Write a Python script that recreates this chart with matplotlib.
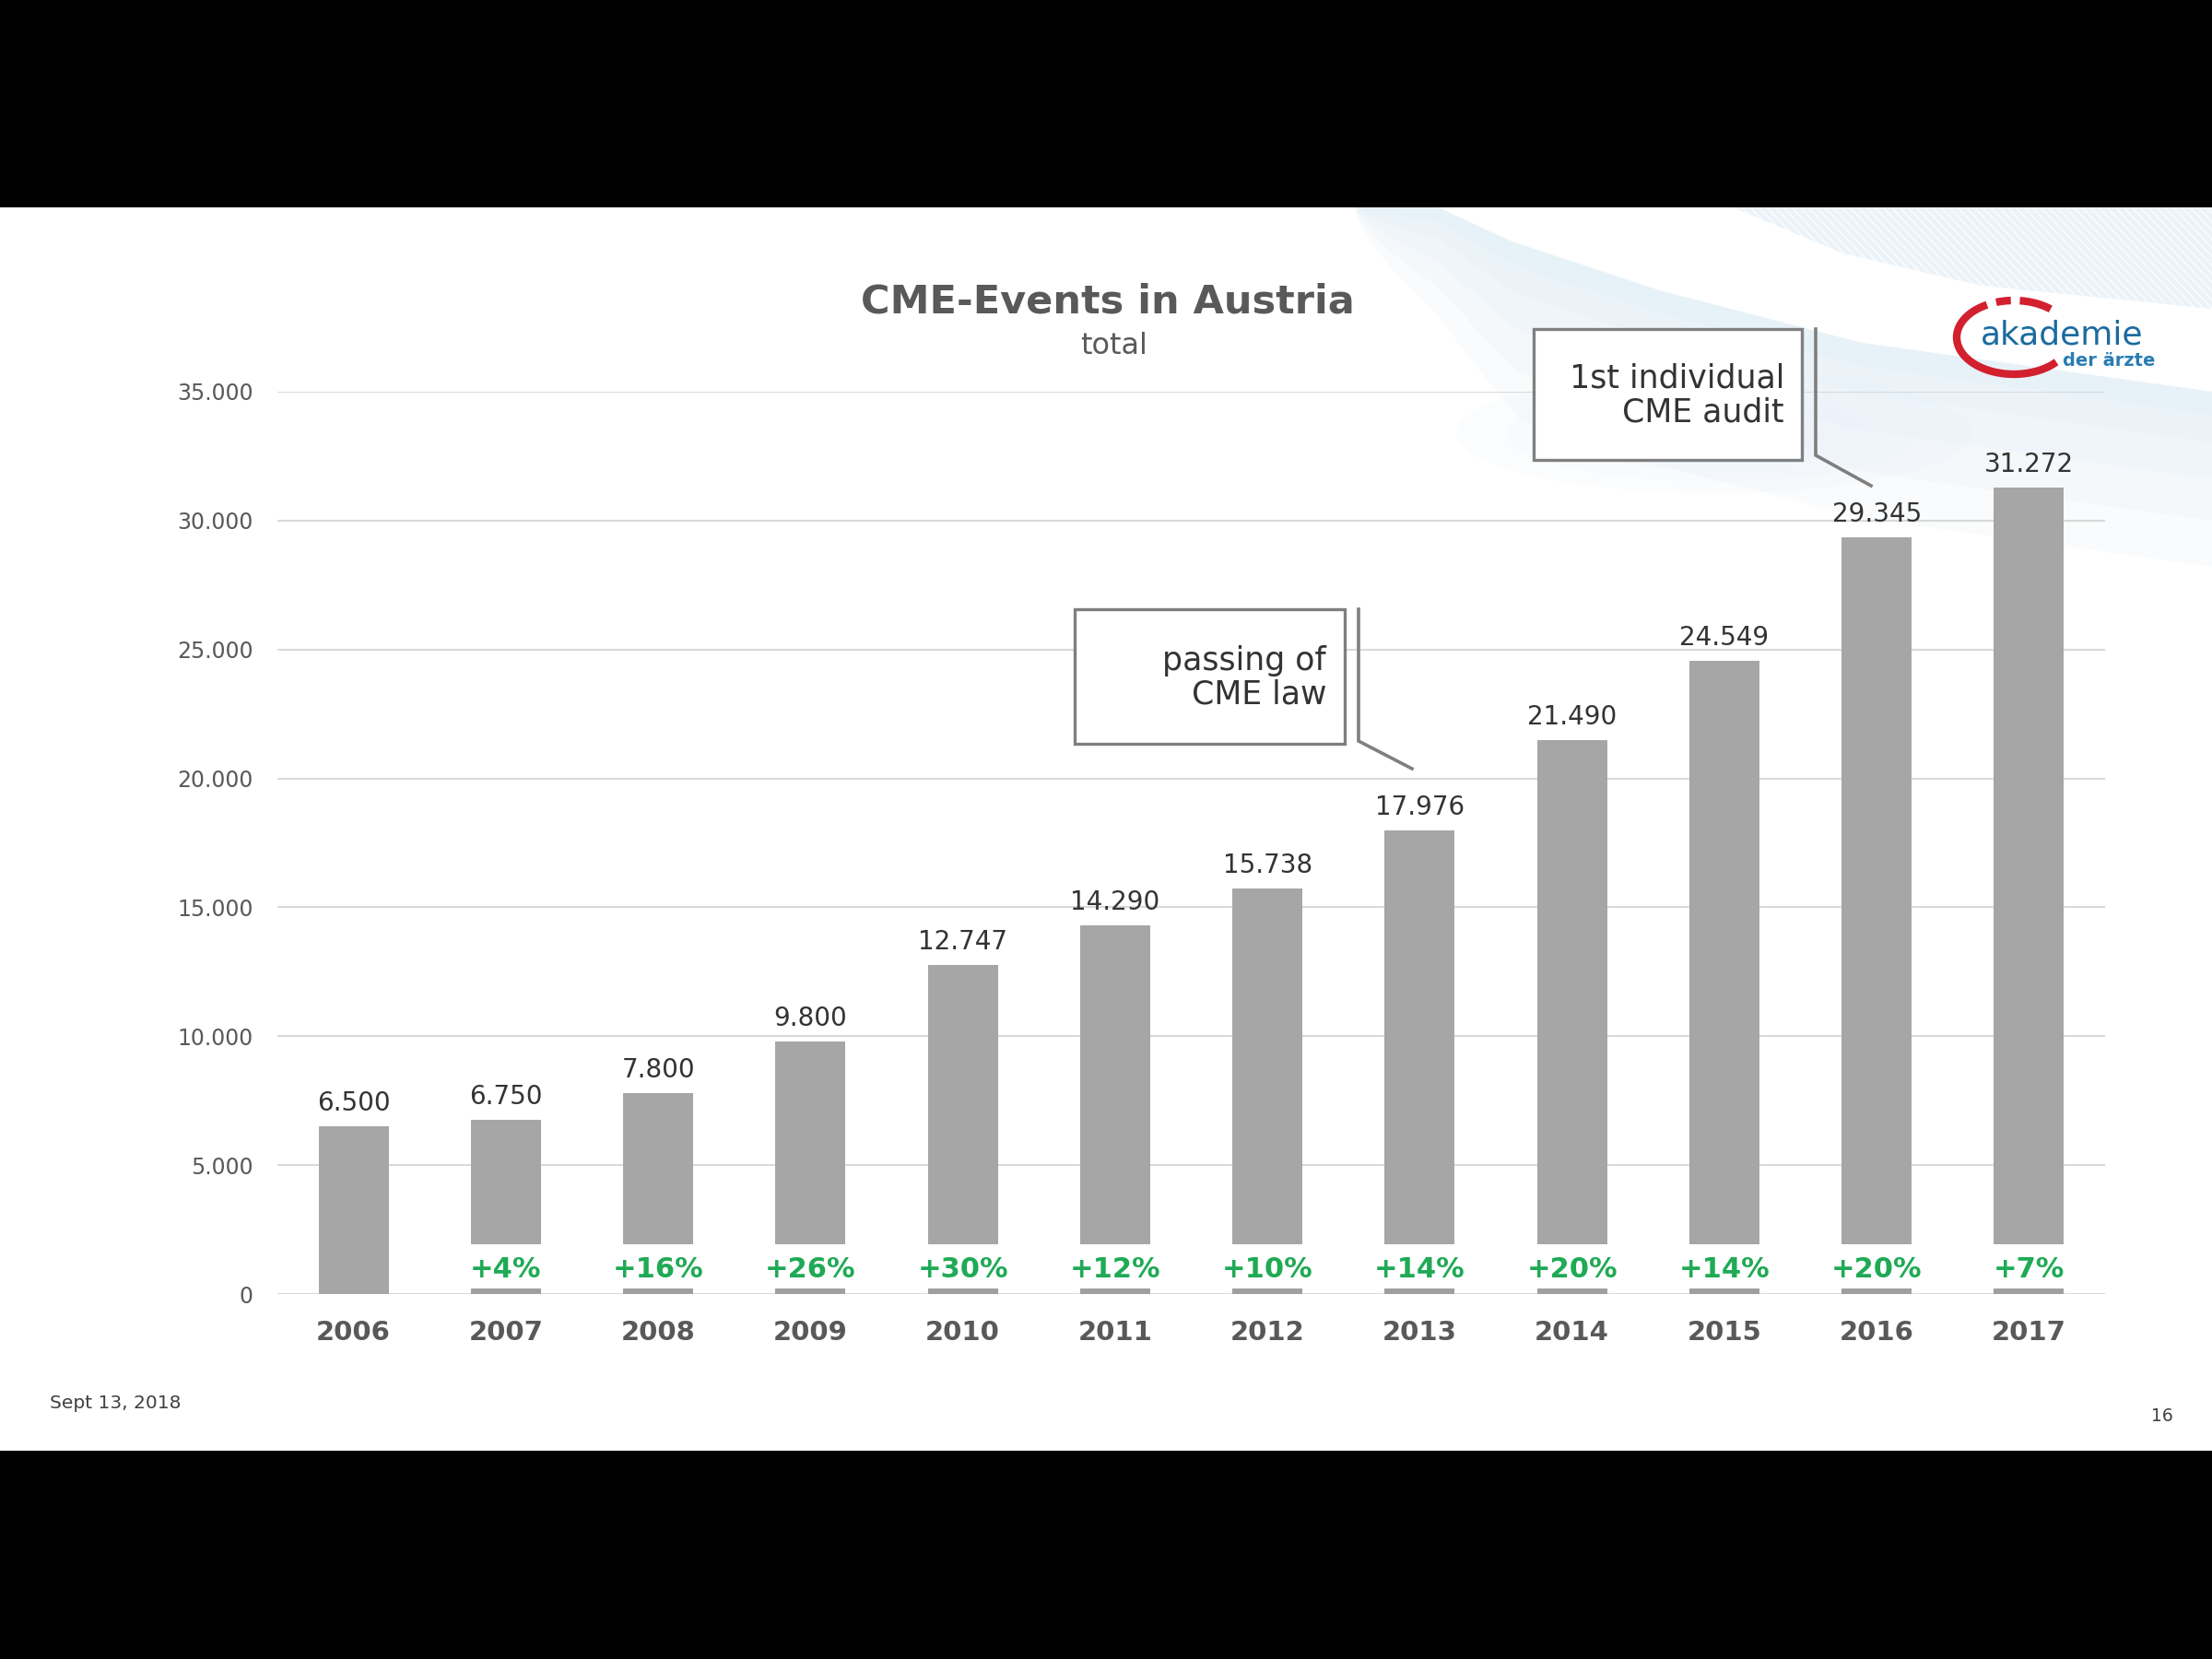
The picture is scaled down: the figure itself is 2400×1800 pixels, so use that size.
import numpy as np
import matplotlib.pyplot as plt
from matplotlib.patches import Rectangle, Polygon, Ellipse

# data
years = ["2006", "2007", "2008", "2009", "2010", "2011",
         "2012", "2013", "2014", "2015", "2016", "2017"]
events = [6500, 6750, 7800, 9800, 12747, 14290,
          15738, 17976, 21490, 24549, 29345, 31272]
growth = ["", "+4%", "+16%", "+26%", "+30%", "+12%",
          "+10%", "+14%", "+20%", "+14%", "+20%", "+7%"]
yticks = [0, 5000, 10000, 15000, 20000, 25000, 30000, 35000]

W, H = 2400, 1800
bar_col = "#a6a6a6"
txt_col = "#595959"
green = "#1faa55"


def fmt(v):
    return f"{v:,}".replace(",", ".")


fig = plt.figure(figsize=(24, 18), dpi=100)
fig.patch.set_facecolor("white")

# background layer in pixel coordinates (y down)
bg = fig.add_axes([0, 0, 1, 1], zorder=0)
bg.set_xlim(0, W)
bg.set_ylim(H, 0)
bg.axis("off")

# light blue swoosh, top right (decoration only)
xs = np.linspace(1470, W, 300)
upper = np.interp(xs, [1560, 1640, 1800, 2020, 2400], [225, 262, 315, 372, 425])
taper = np.clip((xs - 1470) / 180, 0, 1) ** 0.7
for d in [25, 55, 95, 140, 190]:
    lower = upper + d * taper
    pts = np.vstack([np.column_stack([xs, upper]),
                     np.column_stack([xs[::-1], lower[::-1]])])
    bg.add_patch(Polygon(pts, closed=True, fc="#cfe3f2", ec="none", alpha=0.11))

xr = np.linspace(1880, W, 200)
lr = np.interp(xr, [1880, 2000, 2150, 2400], [225, 275, 310, 335])
pts = np.vstack([np.column_stack([xr, np.full_like(xr, 225)]),
                 np.column_stack([xr[::-1], lr[::-1]])])
top_patch = Polygon(pts, closed=True, fc="#deebf5", ec="none", alpha=0.6)
bg.add_patch(top_patch)
for x0 in range(1800, 2420, 9):
    ln, = bg.plot([x0, x0 + 110], [225, 340], color="white", lw=1.2, alpha=0.8)
    ln.set_clip_path(top_patch)
for k in range(4):
    bg.add_patch(Ellipse((1860, 470), 560 - 110 * k, 130 - 25 * k,
                         fc="#e8f1f9", ec="none", alpha=0.15))

# main chart
ax = fig.add_axes([301 / W, 1 - 1404 / H, (2284 - 301) / W, (1404 - 425) / H], zorder=1)
ax.patch.set_alpha(0)
x = np.arange(len(years))
ax.set_xlim(-0.5, len(years) - 0.5)
ax.set_ylim(0, 35000)

cut_lo, cut_hi = 230, 1930
for i, v in enumerate(events):
    if growth[i]:
        ax.bar(x[i], cut_lo, width=0.46, color="#9f9f9f", zorder=3)
        ax.bar(x[i], v - cut_hi, bottom=cut_hi, width=0.46, color=bar_col, zorder=3)
        ax.text(x[i], 950, growth[i], ha="center", va="center",
                fontsize=22, fontweight="bold", color=green, zorder=4)
    else:
        ax.bar(x[i], v, width=0.46, color=bar_col, zorder=3)
    ax.annotate(fmt(v), (x[i], v), xytext=(0, 8), textcoords="offset points",
                ha="center", va="bottom", fontsize=20, color="#333333")

ax.set_yticks(yticks)
ax.set_yticklabels([fmt(v) for v in yticks], fontsize=17, color=txt_col)
ax.set_xticks(x)
ax.set_xticklabels(years, fontsize=21, fontweight="bold", color=txt_col)
ax.tick_params(axis="both", length=0)
ax.tick_params(axis="y", pad=19)
ax.tick_params(axis="x", pad=20)
ax.grid(axis="y", color="#d9d9d9", lw=1.5, zorder=0)
for s in ax.spines.values():
    s.set_visible(False)

# overlay layer: titles, callouts, logo, footer, black bands
top = fig.add_axes([0, 0, 1, 1], zorder=2)
top.set_xlim(0, W)
top.set_ylim(H, 0)
top.axis("off")
top.patch.set_alpha(0)

top.text(1202, 327, "CME-Events in Austria", ha="center", va="center",
         fontsize=31, fontweight="bold", color=txt_col)
top.text(1209, 375, "total", ha="center", va="center", fontsize=23, color=txt_col)

line_col = "#7f7f7f"
# callout: passing of CME law
top.add_patch(Rectangle((1166, 661), 293, 146, fc="white", ec=line_col, lw=2.4))
top.text(1439, 735, "passing of\nCME law", ha="right", va="center",
         multialignment="right", fontsize=25, color="#333333", linespacing=1.1)
top.plot([1474, 1474, 1532], [661, 804, 834], color=line_col, lw=2.6,
         solid_joinstyle="miter")
# callout: 1st individual CME audit
top.add_patch(Rectangle((1664, 357), 291, 142, fc="white", ec=line_col, lw=2.4))
top.text(1936, 429, "1st individual\nCME audit", ha="right", va="center",
         multialignment="right", fontsize=25, color="#333333", linespacing=1.1)
top.plot([1970, 1970, 2030], [357, 494, 527], color=line_col, lw=2.6,
         solid_joinstyle="miter")

# logo
cx, cy, rx, ry = 2185, 366, 62, 40
for a0, a1 in [(50, 84), (93, 108), (118, 318)]:
    th = np.radians(np.linspace(a0, a1, 80))
    top.plot(cx + rx * np.cos(th), cy - ry * np.sin(th), color="#d2202f",
             lw=6, solid_capstyle="butt")
top.text(2149, 373, "akademie", ha="left", va="baseline", fontsize=26,
         color="#1b6b9f")
top.text(2238, 397, "der ärzte", ha="left", va="baseline", fontsize=14,
         fontweight="bold", color="#2a7cb3")

# footer
top.text(54, 1523, "Sept 13, 2018", ha="left", va="center", fontsize=14.5, color="#404040")
top.text(2358, 1537, "16", ha="right", va="center", fontsize=13.5, color="#404040")

# black letterbox bands
top.add_patch(Rectangle((0, 0), W, 225, fc="black", ec="none"))
top.add_patch(Rectangle((0, 1574), W, H - 1574, fc="black", ec="none"))

fig.savefig("out.png", dpi=100)
